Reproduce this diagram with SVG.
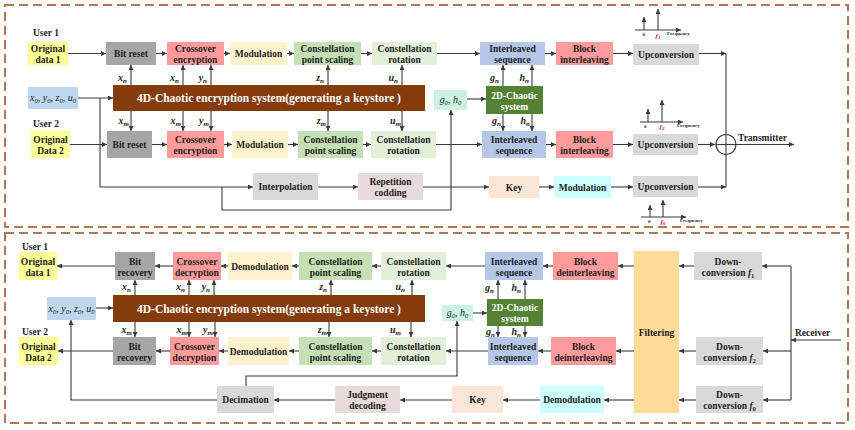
<svg xmlns="http://www.w3.org/2000/svg" width="855" height="430" viewBox="0 0 855 430">
<style>
.t{font-family:"Liberation Serif","Times New Roman",serif;font-weight:bold;font-size:9.5px;fill:#1e1e1e;text-anchor:middle}
.tw{font-family:"Liberation Serif","Times New Roman",serif;font-weight:bold;fill:#ffffff;text-anchor:middle}
.u{font-family:"Liberation Serif","Times New Roman",serif;font-weight:bold;font-size:9.5px;fill:#1e1e1e}
.l{font-family:"Liberation Serif","Times New Roman",serif;font-weight:bold;font-style:italic;font-size:10px;fill:#1e1e1e;text-anchor:end}
.k{font-family:"Liberation Serif","Times New Roman",serif;font-style:italic;font-size:10px;fill:#1e1e1e;text-anchor:middle}
.s{font-family:"Liberation Serif","Times New Roman",serif;font-weight:bold;font-size:5px;fill:#1e1e1e}
.fr{font-family:"Liberation Serif","Times New Roman",serif;font-weight:bold;font-style:italic;font-size:7px;fill:#e01010;text-anchor:middle}
.c{stroke:#3a3a3a;stroke-width:1.1;fill:none}
.a{marker-end:url(#ar)}
.panel{fill:none;stroke:#AE7850;stroke-width:2;stroke-dasharray:9 5}
.yel{fill:#FFFF99}.gry{fill:#A6A6A6}.pnk{fill:#FF9B9B}.crm{fill:#FFF2CC}.grn{fill:#C5E0B4}.lgr{fill:#E2F0D9}
.blu{fill:#B4C7E7}.lgy{fill:#D9D9D9}.brn{fill:#843C0C}.lbl{fill:#BDD7EE}.mnt{fill:#CCF2E4}.dgr{fill:#548235}
.ros{fill:#E8DADA}.key{fill:#FBE5D6}.cyn{fill:#CCFFFF}.org{fill:#FFDA98}
</style>
<defs>
<marker id="ar" viewBox="0 0 6 6" refX="6" refY="3" markerWidth="5" markerHeight="5" markerUnits="userSpaceOnUse" orient="auto">
<path d="M0,0 L6,3 L0,6 z" fill="#3a3a3a"/>
</marker>
</defs>
<rect width="855" height="430" fill="#ffffff"/>
<rect class="panel" x="5" y="5" width="843" height="222"/>
<rect class="panel" x="5" y="233" width="843" height="190"/>

<g id="connectors">
<line class="c a" x1="68" y1="53.5" x2="106" y2="53.5"/>
<line class="c a" x1="156" y1="53.5" x2="167" y2="53.5"/>
<line class="c a" x1="224" y1="53.5" x2="230" y2="53.5"/>
<line class="c a" x1="287" y1="53.5" x2="294" y2="53.5"/>
<line class="c a" x1="361" y1="53.5" x2="372" y2="53.5"/>
<line class="c a" x1="437" y1="53.5" x2="480" y2="53.5"/>
<line class="c a" x1="545" y1="53.5" x2="556" y2="53.5"/>
<line class="c a" x1="613" y1="53.5" x2="633" y2="53.5"/>
<line class="c a" x1="699" y1="53.5" x2="726" y2="53.5"/>
<line class="c" x1="726" y1="53.5" x2="726" y2="134"/>
<line class="c a" x1="131" y1="85" x2="131" y2="65"/>
<line class="c a" x1="183" y1="85" x2="183" y2="65"/>
<line class="c a" x1="211" y1="85" x2="211" y2="65"/>
<line class="c a" x1="328" y1="85" x2="328" y2="65"/>
<line class="c a" x1="402" y1="85" x2="402" y2="65"/>
<line class="c a" x1="503" y1="86" x2="503" y2="65"/>
<line class="c a" x1="532" y1="86" x2="532" y2="65"/>
<line class="c a" x1="131" y1="111" x2="131" y2="131"/>
<line class="c a" x1="183" y1="111" x2="183" y2="131"/>
<line class="c a" x1="211" y1="111" x2="211" y2="131"/>
<line class="c a" x1="328" y1="111" x2="328" y2="131"/>
<line class="c a" x1="402" y1="111" x2="402" y2="131"/>
<line class="c a" x1="503" y1="114" x2="503" y2="131"/>
<line class="c a" x1="532" y1="114" x2="532" y2="131"/>
<line class="c a" x1="78" y1="98" x2="113" y2="98"/>
<line class="c a" x1="467" y1="99" x2="486" y2="99"/>
<polyline class="c a" points="100,98 100,187 253,187"/>
<polyline class="c a" points="222,187 222,210 451,210 451,110"/>
<line class="c a" x1="70" y1="144.5" x2="107" y2="144.5"/>
<line class="c a" x1="152" y1="144.5" x2="167" y2="144.5"/>
<line class="c a" x1="224" y1="144.5" x2="232" y2="144.5"/>
<line class="c a" x1="288" y1="144.5" x2="298" y2="144.5"/>
<line class="c a" x1="363" y1="144.5" x2="371" y2="144.5"/>
<line class="c a" x1="436" y1="144.5" x2="482" y2="144.5"/>
<line class="c a" x1="546" y1="144.5" x2="556" y2="144.5"/>
<line class="c a" x1="613" y1="144.5" x2="633" y2="144.5"/>
<line class="c a" x1="698" y1="144.5" x2="715" y2="144.5"/>
<line class="c a" x1="318" y1="187" x2="358" y2="187"/>
<line class="c a" x1="423" y1="187" x2="489" y2="187"/>
<line class="c a" x1="539" y1="187" x2="554" y2="187"/>
<line class="c a" x1="611" y1="187" x2="633" y2="187"/>
<line class="c a" x1="698" y1="187" x2="726" y2="187"/>
<line class="c" x1="726" y1="187" x2="726" y2="154"/>
<circle cx="726" cy="144.5" r="10" fill="none" stroke="#3a3a3a" stroke-width="1.2"/>
<line class="c" x1="716" y1="144.5" x2="736" y2="144.5"/>
<line class="c" x1="726" y1="134.5" x2="726" y2="154.5"/>
<line class="c a" x1="736" y1="144.5" x2="794" y2="144.5"/>

<line class="c a" x1="841" y1="340" x2="791" y2="340"/>
<line class="c" x1="791" y1="266" x2="791" y2="400"/>
<line class="c a" x1="791" y1="266" x2="762" y2="266"/>
<line class="c a" x1="791" y1="351" x2="763" y2="351"/>
<line class="c a" x1="791" y1="400" x2="763" y2="400"/>
<line class="c a" x1="694" y1="266" x2="679" y2="266"/>
<line class="c a" x1="696" y1="351" x2="679" y2="351"/>
<line class="c a" x1="696" y1="400" x2="679" y2="400"/>
<line class="c a" x1="634" y1="266" x2="618" y2="266"/>
<line class="c a" x1="634" y1="351" x2="616" y2="351"/>
<line class="c a" x1="634" y1="400" x2="604" y2="400"/>
<line class="c a" x1="553" y1="266" x2="543" y2="266"/>
<line class="c a" x1="485" y1="266" x2="446" y2="266"/>
<line class="c a" x1="381" y1="266" x2="372" y2="266"/>
<line class="c a" x1="299" y1="266" x2="292" y2="266"/>
<line class="c a" x1="228" y1="266" x2="221" y2="266"/>
<line class="c a" x1="173" y1="266" x2="155" y2="266"/>
<line class="c a" x1="115" y1="266" x2="57" y2="266"/>
<line class="c a" x1="551" y1="351" x2="538" y2="351"/>
<line class="c a" x1="488" y1="351" x2="446" y2="351"/>
<line class="c a" x1="381" y1="351" x2="372" y2="351"/>
<line class="c a" x1="299" y1="351" x2="289" y2="351"/>
<line class="c a" x1="228" y1="351" x2="219" y2="351"/>
<line class="c a" x1="170" y1="351" x2="156" y2="351"/>
<line class="c a" x1="113" y1="351" x2="58" y2="351"/>
<line class="c a" x1="135" y1="295" x2="135" y2="280"/>
<line class="c a" x1="189" y1="295" x2="189" y2="280"/>
<line class="c a" x1="214" y1="295" x2="214" y2="280"/>
<line class="c a" x1="331" y1="295" x2="331" y2="280"/>
<line class="c a" x1="412" y1="295" x2="412" y2="280"/>
<line class="c a" x1="498" y1="299" x2="498" y2="280"/>
<line class="c a" x1="525" y1="299" x2="525" y2="280"/>
<line class="c a" x1="135" y1="322" x2="135" y2="337"/>
<line class="c a" x1="189" y1="322" x2="189" y2="337"/>
<line class="c a" x1="215" y1="322" x2="215" y2="337"/>
<line class="c a" x1="329" y1="322" x2="329" y2="337"/>
<line class="c a" x1="411" y1="322" x2="411" y2="337"/>
<line class="c a" x1="498" y1="326" x2="498" y2="337"/>
<line class="c a" x1="525" y1="326" x2="525" y2="337"/>
<line class="c a" x1="96" y1="308" x2="113" y2="308"/>
<line class="c a" x1="473" y1="313" x2="487" y2="313"/>
<line class="c a" x1="540" y1="400" x2="503" y2="400"/>
<line class="c a" x1="452" y1="400" x2="400" y2="400"/>
<line class="c a" x1="335" y1="400" x2="274" y2="400"/>
<polyline class="c a" points="217,400 71,400 71,320"/>
<polyline class="c a" points="246,386 246,376 457,376 457,321"/>
</g>

<g id="spectrum1">
<line class="c a" x1="635" y1="30" x2="681" y2="30"/>
<line class="c a" x1="644" y1="30" x2="644" y2="17"/>
<line class="c a" x1="658" y1="30" x2="658" y2="9"/>
<text class="s" x="642.5" y="36">0</text>
<text class="fr" x="658" y="38">f<tspan font-size="5" dy="1">1</tspan></text>
<text class="s" x="667" y="35">Frequency</text>
</g>
<g id="spectrum2">
<line class="c a" x1="640" y1="122" x2="683" y2="122"/>
<line class="c a" x1="648" y1="122" x2="648" y2="109"/>
<line class="c a" x1="662" y1="122" x2="662" y2="100"/>
<text class="s" x="644" y="128">0</text>
<text class="fr" x="662" y="129">f<tspan font-size="5" dy="1">2</tspan></text>
<text class="s" x="677" y="127">Frequency</text>
</g>
<g id="spectrum3">
<line class="c a" x1="641" y1="217" x2="686" y2="217"/>
<line class="c a" x1="650" y1="217" x2="650" y2="205"/>
<line class="c a" x1="663" y1="217" x2="663" y2="200"/>
<text class="s" x="648" y="223">0</text>
<text class="fr" x="663" y="224">f<tspan font-size="5" dy="1">0</tspan></text>
<text class="s" x="680" y="222">Frequency</text>
</g>

<g id="labels">
<text class="u" x="33" y="36">User 1</text>
<text class="u" x="33" y="127">User 2</text>
<text class="u" x="22" y="250">User 1</text>
<text class="u" x="22" y="335">User 2</text>
<text class="u" x="738" y="141">Transmitter</text>
<text class="u" x="795" y="336">Receiver</text>
<text class="l" x="127" y="81">x<tspan font-size="7" dy="2">n</tspan></text>
<text class="l" x="179" y="81">x<tspan font-size="7" dy="2">n</tspan></text>
<text class="l" x="207" y="81">y<tspan font-size="7" dy="2">n</tspan></text>
<text class="l" x="324" y="81">z<tspan font-size="7" dy="2">n</tspan></text>
<text class="l" x="398" y="81">u<tspan font-size="7" dy="2">n</tspan></text>
<text class="l" x="499" y="81">g<tspan font-size="7" dy="2">n</tspan></text>
<text class="l" x="529" y="81">h<tspan font-size="7" dy="2">n</tspan></text>
<text class="l" x="129" y="124">x<tspan font-size="7" dy="2">m</tspan></text>
<text class="l" x="181" y="124">x<tspan font-size="7" dy="2">m</tspan></text>
<text class="l" x="209" y="124">y<tspan font-size="7" dy="2">m</tspan></text>
<text class="l" x="326" y="124">z<tspan font-size="7" dy="2">m</tspan></text>
<text class="l" x="401" y="124">u<tspan font-size="7" dy="2">m</tspan></text>
<text class="l" x="501" y="124">g<tspan font-size="7" dy="2">n</tspan></text>
<text class="l" x="530" y="124">h<tspan font-size="7" dy="2">n</tspan></text>
<text class="l" x="131" y="290">x<tspan font-size="7" dy="2">n</tspan></text>
<text class="l" x="185" y="290">x<tspan font-size="7" dy="2">n</tspan></text>
<text class="l" x="210" y="290">y<tspan font-size="7" dy="2">n</tspan></text>
<text class="l" x="327" y="290">z<tspan font-size="7" dy="2">n</tspan></text>
<text class="l" x="405" y="290">u<tspan font-size="7" dy="2">n</tspan></text>
<text class="l" x="494" y="291">g<tspan font-size="7" dy="2">n</tspan></text>
<text class="l" x="521" y="291">h<tspan font-size="7" dy="2">n</tspan></text>
<text class="l" x="132" y="333">x<tspan font-size="7" dy="2">m</tspan></text>
<text class="l" x="187" y="333">x<tspan font-size="7" dy="2">m</tspan></text>
<text class="l" x="213" y="333">y<tspan font-size="7" dy="2">m</tspan></text>
<text class="l" x="327" y="333">z<tspan font-size="7" dy="2">m</tspan></text>
<text class="l" x="401" y="333">u<tspan font-size="7" dy="2">m</tspan></text>
<text class="l" x="495" y="335">g<tspan font-size="7" dy="2">n</tspan></text>
<text class="l" x="521" y="335">h<tspan font-size="7" dy="2">n</tspan></text>
</g>

<g id="orig1"><rect class="yel" x="28" y="42" width="40" height="23"/><text class="t" x="48" y="52">Original</text><text class="t" x="48" y="63">data 1</text></g>
<g id="bitreset1"><rect class="gry" x="106" y="42" width="50" height="23"/><text class="t" x="131" y="57">Bit reset</text></g>
<g id="cross1"><rect class="pnk" x="167" y="42" width="57" height="23"/><text class="t" x="195.5" y="52">Crossover</text><text class="t" x="195.5" y="63">encryption</text></g>
<g id="mod1"><rect class="crm" x="230" y="42" width="57" height="23"/><text class="t" x="258.5" y="57">Modulation</text></g>
<g id="cps1"><rect class="grn" x="294" y="42" width="67" height="23"/><text class="t" x="327.5" y="52">Constellation</text><text class="t" x="327.5" y="63">point scaling</text></g>
<g id="rot1"><rect class="lgr" x="372" y="42" width="65" height="23"/><text class="t" x="404.5" y="52">Constellation</text><text class="t" x="404.5" y="63">rotation</text></g>
<g id="inter1"><rect class="blu" x="480" y="42" width="65" height="23"/><text class="t" x="512.5" y="52">Interleaved</text><text class="t" x="512.5" y="63">sequence</text></g>
<g id="block1"><rect class="pnk" x="556" y="42" width="57" height="23"/><text class="t" x="584.5" y="52">Block</text><text class="t" x="584.5" y="63">interleaving</text></g>
<g id="up1"><rect class="lgy" x="633" y="44" width="66" height="21"/><text class="t" x="666" y="57.5">Upconversion</text></g>

<g id="x0box1"><rect class="lbl" x="28" y="87" width="50" height="22"/><text class="k" x="53" y="101">x<tspan font-size="6.5" dy="2">0</tspan><tspan dy="-2">, y</tspan><tspan font-size="6.5" dy="2">0</tspan><tspan dy="-2">, z</tspan><tspan font-size="6.5" dy="2">0</tspan><tspan dy="-2">, u</tspan><tspan font-size="6.5" dy="2">0</tspan></text></g>
<g id="chaos4d1"><rect class="brn" x="113" y="85" width="312" height="26"/><text class="tw" x="269" y="102" font-size="11.5">4D-Chaotic encryption system(generating a keystore )</text></g>
<g id="g0h0box1"><rect class="mnt" x="434" y="90" width="33" height="20"/><text class="k" x="450.5" y="103">g<tspan font-size="6.5" dy="2">0</tspan><tspan dy="-2">, h</tspan><tspan font-size="6.5" dy="2">0</tspan></text></g>
<g id="chaos2d1"><rect class="dgr" x="486" y="86" width="57" height="28"/><text class="tw" x="514.5" y="98.5" font-size="9.5">2D-Chaotic</text><text class="tw" x="514.5" y="109.5" font-size="9.5">system</text></g>

<g id="orig2"><rect class="yel" x="31" y="131" width="39" height="27"/><text class="t" x="50.5" y="143">Original</text><text class="t" x="50.5" y="154">Data 2</text></g>
<g id="bitreset2"><rect class="gry" x="107" y="131" width="45" height="27"/><text class="t" x="129.5" y="148">Bit reset</text></g>
<g id="cross2"><rect class="pnk" x="167" y="131" width="57" height="27"/><text class="t" x="195.5" y="143">Crossover</text><text class="t" x="195.5" y="154">encryption</text></g>
<g id="mod2"><rect class="crm" x="232" y="131" width="56" height="27"/><text class="t" x="260" y="148">Modulation</text></g>
<g id="cps2"><rect class="grn" x="298" y="131" width="65" height="27"/><text class="t" x="330.5" y="143">Constellation</text><text class="t" x="330.5" y="154">point scaling</text></g>
<g id="rot2"><rect class="lgr" x="371" y="131" width="65" height="27"/><text class="t" x="403.5" y="143">Constellation</text><text class="t" x="403.5" y="154">rotation</text></g>
<g id="inter2"><rect class="blu" x="482" y="131" width="64" height="27"/><text class="t" x="514" y="143">Interleaved</text><text class="t" x="514" y="154">sequence</text></g>
<g id="block2"><rect class="pnk" x="556" y="131" width="57" height="27"/><text class="t" x="584.5" y="143">Block</text><text class="t" x="584.5" y="154">interleaving</text></g>
<g id="up2"><rect class="lgy" x="633" y="134" width="65" height="21"/><text class="t" x="665.5" y="148">Upconversion</text></g>

<g id="interp"><rect class="lgy" x="253" y="173" width="65" height="27"/><text class="t" x="285.5" y="190">Interpolation</text></g>
<g id="rep"><rect class="ros" x="358" y="173" width="65" height="27"/><text class="t" x="390.5" y="185">Repetition</text><text class="t" x="390.5" y="196">codding</text></g>
<g id="key1"><rect class="key" x="489" y="176" width="50" height="22"/><text class="t" x="514" y="190.5">Key</text></g>
<g id="modc1"><rect class="cyn" x="554" y="176" width="57" height="22"/><text class="t" x="582.5" y="190.5">Modulation</text></g>
<g id="up3"><rect class="lgy" x="633" y="176" width="65" height="21"/><text class="t" x="665.5" y="190">Upconversion</text></g>

<g id="origB1"><rect class="yel" x="19" y="252" width="38" height="28"/><text class="t" x="38" y="264.5">Original</text><text class="t" x="38" y="275.5">data 1</text></g>
<g id="bitrec1"><rect class="gry" x="115" y="252" width="40" height="28"/><text class="t" x="135" y="264.5">Bit</text><text class="t" x="135" y="275.5">recovery</text></g>
<g id="crossd1"><rect class="pnk" x="173" y="252" width="48" height="28"/><text class="t" x="197" y="264.5">Crossover</text><text class="t" x="197" y="275.5">decryption</text></g>
<g id="demod1"><rect class="crm" x="228" y="252" width="64" height="28"/><text class="t" x="260" y="269.5">Demodulation</text></g>
<g id="cpsB1"><rect class="grn" x="299" y="252" width="73" height="28"/><text class="t" x="335.5" y="264.5">Constellation</text><text class="t" x="335.5" y="275.5">point scaling</text></g>
<g id="rotB1"><rect class="lgr" x="381" y="252" width="65" height="28"/><text class="t" x="413.5" y="264.5">Constellation</text><text class="t" x="413.5" y="275.5">rotation</text></g>
<g id="interB1"><rect class="blu" x="485" y="252" width="58" height="28"/><text class="t" x="514" y="264.5">Interleaved</text><text class="t" x="514" y="275.5">sequence</text></g>
<g id="blockd1"><rect class="pnk" x="553" y="252" width="65" height="28"/><text class="t" x="585.5" y="264.5">Block</text><text class="t" x="585.5" y="275.5">deinterleaving</text></g>
<g id="filtering"><rect class="org" x="634" y="251" width="45" height="162"/><text class="t" x="656.5" y="336">Filtering</text></g>
<g id="down1"><rect class="lgy" x="694" y="252" width="68" height="28"/><text class="t" x="728" y="264.5">Down-</text><text class="t" x="728" y="275.5">conversion <tspan font-style="italic">f</tspan><tspan font-size="6.5" dy="2">1</tspan></text></g>

<g id="x0box2"><rect class="lbl" x="47" y="297" width="49" height="23"/><text class="k" x="71.5" y="311.5">x<tspan font-size="6.5" dy="2">0</tspan><tspan dy="-2">, y</tspan><tspan font-size="6.5" dy="2">0</tspan><tspan dy="-2">, z</tspan><tspan font-size="6.5" dy="2">0</tspan><tspan dy="-2">, u</tspan><tspan font-size="6.5" dy="2">0</tspan></text></g>
<g id="chaos4d2"><rect class="brn" x="113" y="295" width="312" height="27"/><text class="tw" x="269" y="312.5" font-size="11.5">4D-Chaotic encryption system(generating a keystore )</text></g>
<g id="g0h0box2"><rect class="mnt" x="442" y="305" width="31" height="16"/><text class="k" x="457.5" y="316">g<tspan font-size="6.5" dy="2">0</tspan><tspan dy="-2">, h</tspan><tspan font-size="6.5" dy="2">0</tspan></text></g>
<g id="chaos2d2"><rect class="dgr" x="487" y="299" width="56" height="27"/><text class="tw" x="515" y="311" font-size="9.5">2D-Chaotic</text><text class="tw" x="515" y="322" font-size="9.5">system</text></g>

<g id="origB2"><rect class="yel" x="19" y="337" width="39" height="28"/><text class="t" x="38.5" y="349.5">Original</text><text class="t" x="38.5" y="360.5">Data 2</text></g>
<g id="bitrec2"><rect class="gry" x="113" y="337" width="43" height="28"/><text class="t" x="134.5" y="349.5">Bit</text><text class="t" x="134.5" y="360.5">recovery</text></g>
<g id="crossd2"><rect class="pnk" x="170" y="337" width="49" height="28"/><text class="t" x="194.5" y="349.5">Crossover</text><text class="t" x="194.5" y="360.5">decryption</text></g>
<g id="demod2"><rect class="crm" x="228" y="337" width="61" height="28"/><text class="t" x="258.5" y="354.5">Demodulation</text></g>
<g id="cpsB2"><rect class="grn" x="299" y="337" width="73" height="28"/><text class="t" x="335.5" y="349.5">Constellation</text><text class="t" x="335.5" y="360.5">point scaling</text></g>
<g id="rotB2"><rect class="lgr" x="381" y="337" width="65" height="28"/><text class="t" x="413.5" y="349.5">Constellation</text><text class="t" x="413.5" y="360.5">rotation</text></g>
<g id="interB2"><rect class="blu" x="488" y="337" width="50" height="28"/><text class="t" x="513" y="349.5">Interleaved</text><text class="t" x="513" y="360.5">sequence</text></g>
<g id="blockd2"><rect class="pnk" x="551" y="337" width="65" height="28"/><text class="t" x="583.5" y="349.5">Block</text><text class="t" x="583.5" y="360.5">deinterleaving</text></g>
<g id="down2"><rect class="lgy" x="696" y="337" width="67" height="28"/><text class="t" x="729.5" y="349.5">Down-</text><text class="t" x="729.5" y="360.5">conversion <tspan font-style="italic">f</tspan><tspan font-size="6.5" dy="2">2</tspan></text></g>

<g id="decim"><rect class="lgy" x="217" y="386" width="57" height="27"/><text class="t" x="245.5" y="403">Decimation</text></g>
<g id="judg"><rect class="ros" x="335" y="386" width="65" height="27"/><text class="t" x="367.5" y="398">Judgment</text><text class="t" x="367.5" y="409">decoding</text></g>
<g id="keyB"><rect class="key" x="452" y="386" width="51" height="27"/><text class="t" x="477.5" y="403">Key</text></g>
<g id="demodc"><rect class="cyn" x="540" y="386" width="64" height="27"/><text class="t" x="572" y="403">Demodulation</text></g>
<g id="down0"><rect class="lgy" x="696" y="386" width="67" height="27"/><text class="t" x="729.5" y="398">Down-</text><text class="t" x="729.5" y="409">conversion <tspan font-style="italic">f</tspan><tspan font-size="6.5" dy="2">0</tspan></text></g>
</svg>
